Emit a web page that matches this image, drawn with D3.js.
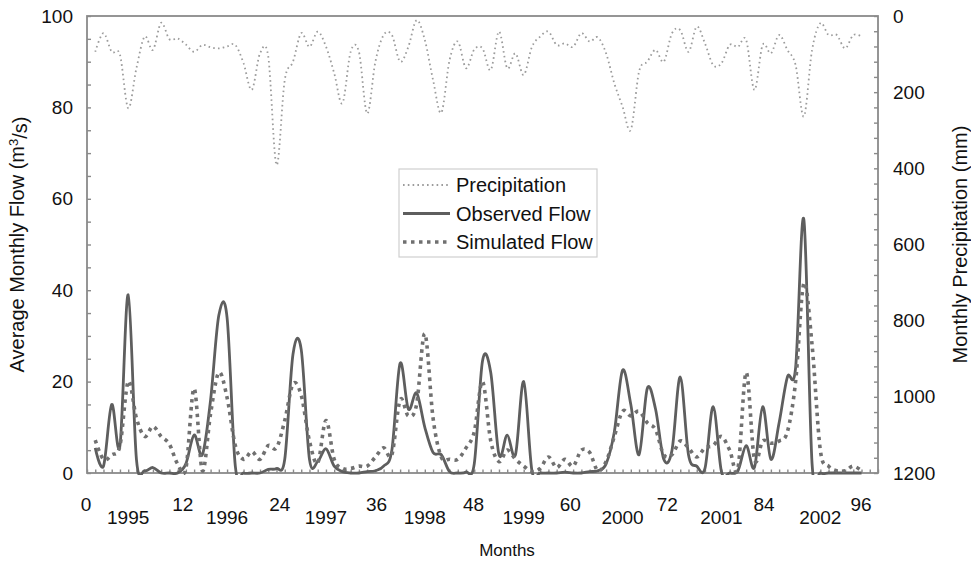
<!DOCTYPE html>
<html lang="en">
<head>
<meta charset="utf-8">
<title>Observed and simulated flow</title>
<script src="https://cdn.jsdelivr.net/npm/d3@7"></script>
<style>
  body { margin: 0; background: #fff; }
  svg text { font-family: "Liberation Sans", Arial, sans-serif; fill: #111; }
  .axis line { stroke: #8a8a8a; stroke-width: 1.4; }
  .axis path { display: none; }
</style>
</head>
<body>
<svg id="chart" width="971" height="562"></svg>
<script>
// monthly values, months 1..94
const observed = [
  5.5, 1.5, 15, 6, 39, 3, 0.5, 1.2, 0, 0,
  0, 2, 8.3, 4, 16, 34.5, 34, 1.5, 0, 0,
  0, 0.8, 1, 3, 26, 27, 3, 2.5, 5.3, 1.5,
  0.3, 0, 0, 0.3, 0.5, 1.5, 5, 24, 14, 17.5,
  10, 4.5, 4, 0.3, 0, 0.2, 2, 24.5, 22, 4,
  8.3, 4, 20, 0.5, 0, 0, 0, 0.2, 0, 0,
  0.3, 0.5, 2, 9, 22.5, 15, 4, 18.5, 14, 3,
  5, 21, 4, 1.5, 1, 14.5, 0.3, 0, 0.5, 6,
  1.2, 14.5, 3, 11, 21, 23, 55.5, 2, 0, 0,
  0, 0, 0, 0
];
const simulated = [
  7.2, 3, 4, 6, 20, 12, 8, 10.2, 8, 6.3,
  2, 1, 18.5, 0.5, 13, 22, 16.5, 6, 3, 4.7,
  3, 6, 5.5, 11.5, 19.5, 17, 7, 2.2, 11.5, 3,
  1, 1, 1.5, 1.5, 3.5, 5.5, 4, 16, 12.5, 15,
  30.5, 12, 3.5, 3, 3, 5.5, 9, 20, 7, 2.5,
  5, 3, 1.5, 0.3, 1, 3.5, 1.2, 3, 1.5, 5,
  4.5, 0.5, 2.5, 8, 13.5, 12.5, 13.5, 11, 9.5, 4,
  4, 7, 5.5, 3.5, 5.5, 6, 8, 5, 1, 22,
  3, 7, 6.5, 7, 9, 20, 41.5, 28, 5, 1.5,
  0.5, 0.5, 1.5, 0.5
];
const precipitation = [
  94, 45, 94, 102, 242, 137, 54, 89, 18, 61,
  59, 75, 94, 76, 82, 85, 80, 76, 124, 194,
  98, 107, 391, 168, 120, 45, 81, 41, 80, 150,
  229, 94, 94, 256, 120, 50, 50, 120, 81, 11,
  63, 168, 254, 116, 67, 137, 88, 85, 142, 41,
  137, 98, 155, 81, 54, 41, 76, 72, 81, 45,
  67, 56, 98, 177, 238, 299, 146, 120, 89, 120,
  45, 37, 94, 28, 72, 129, 124, 76, 81, 63,
  194, 76, 98, 50, 89, 129, 264, 89, 19, 50,
  50, 85, 50, 54
];

const monthLabels = [0, 12, 24, 36, 48, 60, 72, 84, 96];
const yearLabels = ["1995", "1996", "1997", "1998", "1999", "2000", "2001", "2002"];
const yearMonths = [5, 17, 29, 41, 53, 65, 77, 89];
const flowTicks = [0, 20, 40, 60, 80, 100];
const precipTicks = [0, 200, 400, 600, 800, 1000, 1200];

const legendItems = [
  {name: "Precipitation", cls: "precip"},
  {name: "Observed Flow", cls: "obs"},
  {name: "Simulated Flow", cls: "sim"}
];

const styles = {
  precip: {stroke: "#9c9c9c", width: 1.8, dash: "1.6,3.2"},
  obs: {stroke: "#5e5e5e", width: 2.8, dash: null},
  sim: {stroke: "#707070", width: 3.6, dash: "3.5,4.5"}
};

const svg = d3.select("#chart");
const plot = {left: 87, right: 878, top: 16, bottom: 473};

const x = d3.scaleLinear().domain([0, 96]).range([plot.left, plot.right]);
const y = d3.scaleLinear().domain([0, 100]).range([plot.bottom, plot.top]);
const yP = d3.scaleLinear().domain([0, 1200]).range([plot.top, plot.bottom]);
// the month numbers sit on a slightly shorter span than the ticks
const monthLabelX = d3.scaleLinear().domain([0, 96]).range([86, 861]);

svg.append("defs").append("clipPath").attr("id", "clip")
  .append("rect")
  .attr("x", plot.left).attr("y", plot.top - 2)
  .attr("width", plot.right - plot.left).attr("height", plot.bottom - plot.top + 4);

// left axis, minor ticks every 5
svg.append("g")
  .attr("class", "axis")
  .attr("transform", `translate(${plot.left},0)`)
  .call(d3.axisLeft(y).tickValues(d3.range(0, 101, 5)).tickSizeInner(-4).tickSizeOuter(0)
    .tickPadding(14).tickFormat(d => flowTicks.includes(d) ? d : ""))
  .selectAll("text").style("font-size", "19px");

// right axis, ticks every 40 mm
svg.append("g")
  .attr("class", "axis")
  .attr("transform", `translate(${plot.right},0)`)
  .call(d3.axisRight(yP).tickValues(d3.range(0, 1201, 40)).tickSizeInner(-4).tickSizeOuter(0)
    .tickPadding(15).tickFormat(d => precipTicks.includes(d) ? d : ""))
  .selectAll("text").style("font-size", "19px");

// bottom ticks, one per month
svg.append("g")
  .attr("class", "axis")
  .attr("transform", `translate(0,${plot.bottom})`)
  .call(d3.axisBottom(x).tickValues(d3.range(0, 97)).tickSizeInner(-3.5).tickSizeOuter(0).tickFormat(""));

svg.append("g").selectAll("text")
  .data(monthLabels)
  .join("text")
  .attr("x", d => monthLabelX(d))
  .attr("y", 511)
  .attr("text-anchor", "middle")
  .style("font-size", "19px")
  .text(d => d);

svg.append("g").selectAll("text")
  .data(yearLabels)
  .join("text")
  .attr("x", (d, i) => x(yearMonths[i]))
  .attr("y", 524)
  .attr("text-anchor", "middle")
  .style("font-size", "19px")
  .text(d => d);

// frame
svg.append("rect")
  .attr("x", plot.left).attr("y", plot.top)
  .attr("width", plot.right - plot.left).attr("height", plot.bottom - plot.top)
  .attr("fill", "none").attr("stroke", "#8a8a8a").attr("stroke-width", 1.8);

const curve = d3.curveCardinal.tension(0);
const flowLine = d3.line().x((d, i) => x(i + 1)).y(d => y(d)).curve(curve);
const precipLine = d3.line().x((d, i) => x(i + 1)).y(d => yP(d)).curve(curve);

const lines = svg.append("g").attr("clip-path", "url(#clip)");

function styled(sel, s) {
  sel.attr("fill", "none")
    .attr("stroke", s.stroke)
    .attr("stroke-width", s.width)
    .attr("stroke-linejoin", "round")
    .attr("stroke-dasharray", s.dash);
  return sel;
}

lines.append("path").datum(precipitation).attr("d", precipLine).call(styled, styles.precip);
lines.append("path").datum(observed).attr("d", flowLine).call(styled, styles.obs);
lines.append("path").datum(simulated).attr("d", flowLine).call(styled, styles.sim);

// legend
const legend = svg.append("g").attr("transform", "translate(399,169)");
legend.append("rect")
  .attr("width", 198).attr("height", 88)
  .attr("fill", "#fff").attr("stroke", "#cfcfcf").attr("stroke-width", 1.2);

const rows = legend.selectAll("g.row")
  .data(legendItems)
  .join("g")
  .attr("class", "row")
  .attr("transform", (d, i) => `translate(0,${16 + i * 28.5})`);

rows.append("line")
  .attr("x1", 4).attr("x2", 51)
  .each(function(d) { d3.select(this).call(styled, styles[d.cls]); });

rows.append("text")
  .attr("x", 57).attr("dy", "0.35em")
  .style("font-size", "20px")
  .text(d => d.name);

// axis titles
const leftTitle = svg.append("text")
  .attr("transform", `translate(24,${(plot.top + plot.bottom) / 2}) rotate(-90)`)
  .attr("text-anchor", "middle")
  .style("font-size", "20px");
leftTitle.append("tspan").text("Average Monthly Flow (m");
leftTitle.append("tspan").attr("dy", "-0.45em").style("font-size", "13px").text("3");
leftTitle.append("tspan").attr("dy", "0.45em").text("/s)");

svg.append("text")
  .attr("transform", `translate(967,${(plot.top + plot.bottom) / 2}) rotate(-90)`)
  .attr("text-anchor", "middle")
  .style("font-size", "20px")
  .text("Monthly Precipitation (mm)");

svg.append("text")
  .attr("x", 507).attr("y", 556)
  .attr("text-anchor", "middle")
  .style("font-size", "17px")
  .text("Months");
</script>
</body>
</html>
